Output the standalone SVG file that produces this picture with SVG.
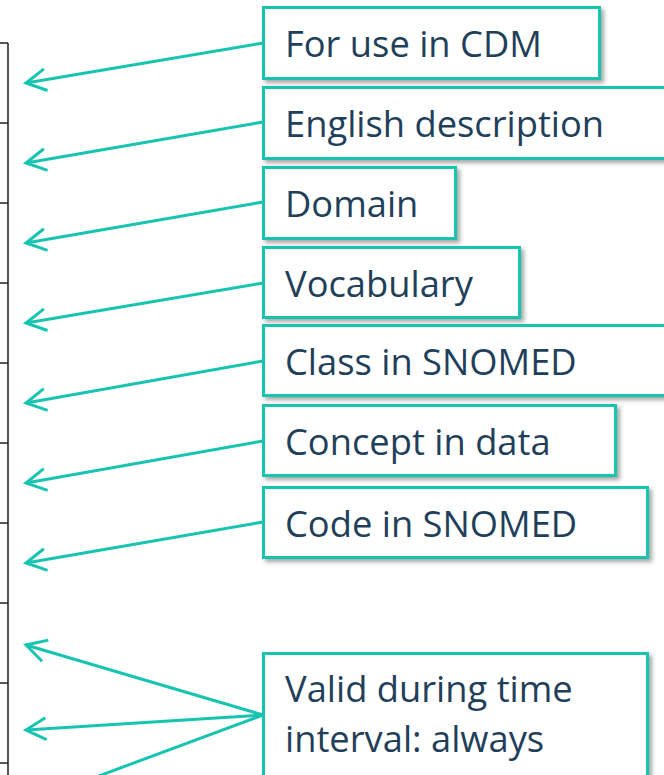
<svg xmlns="http://www.w3.org/2000/svg" width="664" height="775" viewBox="0 0 664 775">
<style>
.box{fill:#ffffff;stroke:#17C4B0;stroke-width:3;filter:url(#sh)}
.lbl{font-family:"Open Sans","Noto Sans",sans-serif;font-size:36.3px;fill:#1F3F5A}
.con{fill:none;stroke:#17C4B0;stroke-width:3;marker-end:url(#ah)}
.tbl{stroke:#222;stroke-width:1.5}
</style>
<defs>
<filter id="sh" x="-10%" y="-20%" width="130%" height="160%">
<feDropShadow dx="3" dy="3" stdDeviation="2" flood-color="#000" flood-opacity="0.35"/>
</filter>
<marker id="ah" markerUnits="userSpaceOnUse" orient="auto" refX="0" refY="0" markerWidth="30" markerHeight="30" overflow="visible">
<path d="M-20,-11 L0,0 L-20,11" fill="none" stroke="#17C4B0" stroke-width="3"/>
</marker>
</defs>
<g id="table">
<line x1="8" y1="43" x2="8" y2="775" stroke="#555" stroke-width="2"/>
<line class="tbl" x1="0" y1="43" x2="8" y2="43"/>
<line class="tbl" x1="0" y1="123" x2="8" y2="123"/>
<line class="tbl" x1="0" y1="203" x2="8" y2="203"/>
<line class="tbl" x1="0" y1="283" x2="8" y2="283"/>
<line class="tbl" x1="0" y1="363" x2="8" y2="363"/>
<line class="tbl" x1="0" y1="443" x2="8" y2="443"/>
<line class="tbl" x1="0" y1="523" x2="8" y2="523"/>
<line class="tbl" x1="0" y1="603" x2="8" y2="603"/>
<line class="tbl" x1="0" y1="683" x2="8" y2="683"/>
<line class="tbl" x1="0" y1="763" x2="8" y2="763"/>
</g>
<g id="connectors">
<path class="con" d="M263,43 L26,83"/>
<path class="con" d="M263,122 L26,163"/>
<path class="con" d="M263,202 L26,243"/>
<path class="con" d="M263,283 L26,323"/>
<path class="con" d="M263,361 L26,403"/>
<path class="con" d="M263,441 L26,483"/>
<path class="con" d="M263,522 L26,563"/>
<path class="con" d="M263,715 L26,645"/>
<path class="con" d="M263,715 L26,730"/>
<path class="con" d="M263,715 L26,803"/>
</g>
<g id="n1"><rect class="box" x="263.5" y="7.5" width="336" height="71"/><text class="lbl" x="285" y="57">For use in CDM</text></g>
<g id="n2"><rect class="box" x="263.5" y="87.5" width="420" height="71"/><text class="lbl" x="285" y="137">English description</text></g>
<g id="n3"><rect class="box" x="263.5" y="167.5" width="192" height="71"/><text class="lbl" x="285" y="217">Domain</text></g>
<g id="n4"><rect class="box" x="263.5" y="247.5" width="256" height="70"/><text class="lbl" x="285" y="297">Vocabulary</text></g>
<g id="n5"><rect class="box" x="263.5" y="325.5" width="420" height="70"/><text class="lbl" x="285" y="375">Class in SNOMED</text></g>
<g id="n6"><rect class="box" x="263.5" y="405.5" width="352" height="70"/><text class="lbl" x="285" y="455">Concept in data</text></g>
<g id="n7"><rect class="box" x="263.5" y="487.5" width="384" height="70"/><text class="lbl" x="285" y="537">Code in SNOMED</text></g>
<g id="n8"><rect class="box" x="263.5" y="653.5" width="384" height="160"/><text class="lbl" x="285" y="702">Valid during time</text><text class="lbl" x="285" y="752">interval: always</text></g>
</svg>
